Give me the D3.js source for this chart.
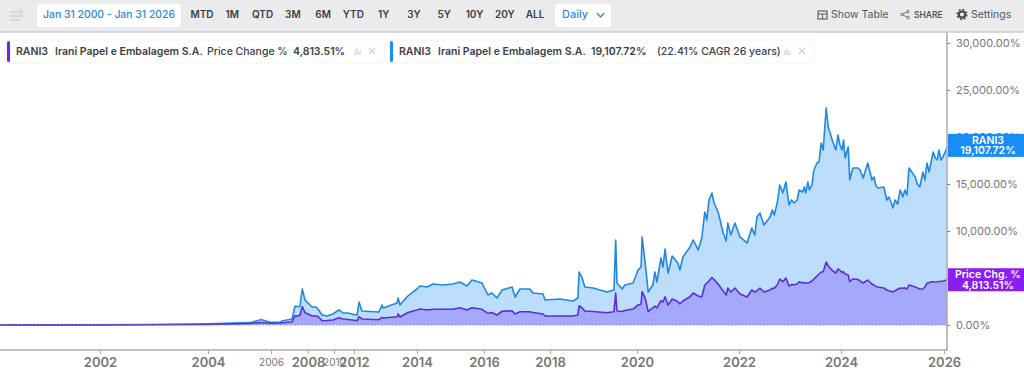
<!DOCTYPE html>
<html>
<head>
<meta charset="utf-8">
<script src="https://cdn.jsdelivr.net/npm/d3@7"></script>
<style>
  html, body { margin: 0; padding: 0; background: #fff; overflow: hidden; }
  text { font-family: Inter, "Noto Sans", sans-serif; }
</style>
</head>
<body>
<div id="chart"></div>
<script>
// values, dates as decimal years
const dates = [2000.15,2001.07,2002,2002.93,2004,2004.79,2005.33,2005.59,2005.68,2005.97,2006.49,2006.65,2007.14,2007.3,2007.46,2007.57,2007.69,2007.84,2008,2008.31,2008.62,2008.77,2009.08,2009.46,2009.92,2010.5,2010.9,2011.4,2012,2012.1,2012.16,2012.25,2012.79,2012.89,2012.92,2013.37,2013.4,2013.46,2013.68,2013.87,2014,2014.09,2014.3,2014.48,2014.78,2015.07,2015.28,2015.49,2015.64,2015.94,2016.12,2016.24,2016.39,2016.55,2016.85,2016.94,2017.09,2017.39,2017.48,2017.79,2017.85,2018.23,2018.53,2018.64,2018.67,2018.74,2018.8,2018.99,2019.31,2019.47,2019.51,2019.54,2019.66,2019.72,2019.91,2020.02,2020.08,2020.1,2020.16,2020.22,2020.31,2020.35,2020.39,2020.47,2020.51,2020.55,2020.61,2020.69,2020.8,2020.84,2020.9,2021.04,2021.1,2021.2,2021.27,2021.33,2021.37,2021.41,2021.47,2021.51,2021.59,2021.69,2021.75,2021.78,2021.84,2021.92,2022.02,2022.16,2022.25,2022.31,2022.35,2022.41,2022.49,
    2022.61,2022.65,2022.69,2022.75,2022.8,2022.86,2022.92,2022.98,2023.03,2023.08,2023.14,2023.18,2023.25,2023.28,2023.31,2023.35,2023.38,2023.43,2023.47,2023.53,2023.57,2023.61,2023.65,2023.71,2023.75,2023.84,2023.9,2023.94,2023.98,2024.02,2024.05,2024.08,2024.14,2024.17,2024.23,2024.33,2024.37,2024.43,2024.52,2024.6,2024.64,2024.68,2024.72,2024.83,2024.86,2024.89,2024.93,2024.97,2025.01,2025.05,2025.1,2025.15,2025.2,2025.24,2025.28,2025.32,2025.44,2025.48,2025.53,2025.59,2025.63,2025.67,2025.71,2025.75,2025.79,2025.83,2025.87,2025.9,2025.94,2025.98,2026.08];
const totalReturn = [0,15,25,50,130,200,250,480,585,290,320,460,640,2020,1950,2020,3830,2660,2340,1915,1915,1700,1065,960,1170,1600,1280,1280,1120,1065,2450,1490,1380,2130,1810,2340,2870,2130,2980,3510,3830,4150,4040,4360,4255,4360,4575,4150,4790,4470,3190,3405,2870,3725,4040,2980,3830,3830,3405,3300,2660,2765,2555,2870,5640,5000,4040,3940,3510,3725,9045,4470,3830,4255,4470,5850,6170,9365,6600,3510,4255,5640,4575,7130,6170,8085,5530,7340,6600,5850,7235,8300,9045,7980,9255,12025,11170,13300,14045,12980,12025,9790,8940,10850,9575,10850,9365,8725,10320,9575,11490,11915,10640,
    11490,12235,11700,12980,14895,14045,15215,12770,13300,12980,13300,14365,14150,14680,14045,15215,14365,14895,16490,17235,17345,19365,18620,23090,21065,19470,18620,20215,19150,18620,19680,17770,18940,15430,16705,16705,16490,15640,17235,15430,15745,14790,14575,14680,14045,13300,13620,13090,12450,13300,12875,14365,13620,14365,13830,16705,15745,15000,14680,16280,15430,17235,16280,17345,18405,17770,17555,18620,17555,17875,19107.72];
const priceChange = [0,10,15,25,60,120,160,230,270,180,210,245,350,990,960,1065,1950,1310,1170,960,960,900,460,480,530,780,640,585,500,460,880,640,565,820,745,880,1170,850,1280,1490,1600,1700,1600,1670,1670,1670,1840,1600,1840,1670,1245,1330,1065,1460,1520,1170,1415,1415,1330,1170,960,960,960,1065,2050,1810,1490,1435,1310,1415,3405,1490,1435,1540,1700,2130,2235,3545,2870,1415,1810,2020,1810,2585,2450,3010,2130,2765,2500,2235,2555,3010,3405,3085,2980,4255,4470,4680,5055,4840,4360,3620,3190,3935,3510,3935,3300,2980,3725,3510,3620,3935,3510,
    3725,3900,3900,4255,4895,4605,5000,4150,4300,4280,4360,4605,4470,4520,4470,4470,4520,4680,4900,5215,5425,5640,5670,6700,6280,5745,5530,5960,5800,5600,5650,5425,5320,4605,4895,4840,4700,4470,4790,4360,4250,4100,4040,3935,3830,3725,3650,3600,3510,3650,3800,3935,3900,3950,3830,4255,4040,3950,3830,3830,4040,4470,4500,4605,4605,4570,4600,4630,4650,4680,4813.51];

const yTicks = [0, 5000, 10000, 15000, 20000, 25000, 30000];
const majorYears = [2002, 2004, 2008, 2012, 2014, 2016, 2018, 2020, 2022, 2024, 2026];
const minorYears = [2006, 2010];
const rangeButtons = ["MTD","1M","QTD","3M","6M","YTD","1Y","3Y","5Y","10Y","20Y","ALL"];

const width = 1024, height = 376;
const plotRight = 947, axisY = 350, topBar = 32;

const svg = d3.select("#chart").append("svg")
    .attr("width", width)
    .attr("height", height)
    .style("display", "block");

// the time axis is not even, so one piece per labelled year
const x = d3.scaleLinear()
    .domain([2000, 2002, 2004, 2006, 2008, 2010, 2012, 2014, 2016, 2018, 2020, 2022, 2024, 2026, 2026.08])
    .range([-8, 100, 208, 271, 308, 334, 354, 417, 484, 550, 637, 739, 841, 944, 948]);

const y = d3.scaleLinear().domain([0, 30000]).range([325, 43]);

const rows = dates.map((d, i) => ({ date: d, total: totalReturn[i], price: priceChange[i] }));

const clip = svg.append("defs").append("clipPath").attr("id", "plot");
clip.append("rect").attr("x", 0).attr("y", topBar).attr("width", plotRight).attr("height", axisY - topBar);

const plot = svg.append("g").attr("clip-path", "url(#plot)");

function drawSeries(key, fill, stroke) {
    const area = d3.area().x(d => x(d.date)).y0(y(0)).y1(d => y(d[key]));
    const line = d3.line().x(d => x(d.date)).y(d => y(d[key]));
    plot.append("path").datum(rows).attr("d", area).attr("fill", fill);
    plot.append("path").datum(rows).attr("d", line)
        .attr("fill", "none")
        .attr("stroke", stroke)
        .attr("stroke-width", 1.6)
        .attr("stroke-linejoin", "round");
}

drawSeries("total", "#bcdefc", "#1f88e4");
drawSeries("price", "#a5a9fb", "#5a2fd8");

plot.append("line")
    .attr("x1", 0).attr("x2", plotRight)
    .attr("y1", y(0)).attr("y2", y(0))
    .attr("stroke", "#8a8da8")
    .attr("stroke-width", 1)
    .attr("stroke-dasharray", "1.5,2");

// axes
const yAxis = d3.axisRight(y)
    .tickValues(yTicks)
    .tickSize(3)
    .tickPadding(6)
    .tickFormat(d => d3.format(",.2f")(d) + "%");

const yAxisG = svg.append("g").attr("transform", `translate(${plotRight},0)`).call(yAxis);
yAxisG.select(".domain").remove();
yAxisG.selectAll("line").attr("stroke", "#777");
yAxisG.selectAll("text").attr("fill", "#777").style("font-size", "11px");

const xAxis = d3.axisBottom(x)
    .tickValues(majorYears.concat(minorYears))
    .tickSize(4)
    .tickFormat(d3.format("d"));

const xAxisG = svg.append("g").attr("transform", `translate(0,${axisY})`).call(xAxis);
xAxisG.select(".domain").remove();
xAxisG.selectAll("line").attr("stroke", "#aaa");
xAxisG.selectAll("text")
    .attr("y", d => minorYears.includes(d) ? 8.5 : 7.5)
    .attr("fill", "#777")
    .style("font-weight", d => minorYears.includes(d) ? 400 : 600)
    .style("font-size", d => minorYears.includes(d) ? "10px" : "13px");

svg.append("line").attr("x1", 0).attr("x2", plotRight + 1).attr("y1", axisY).attr("y2", axisY)
    .attr("stroke", "#aaa").attr("stroke-width", 1.5);
svg.append("line").attr("x1", plotRight).attr("x2", plotRight).attr("y1", topBar).attr("y2", axisY)
    .attr("stroke", "#aaa").attr("stroke-width", 1.5);

// end labels
function endLabel(value, color, first, second) {
    const g = svg.append("g").attr("transform", `translate(${plotRight + 1},${y(value)})`);
    g.append("rect").attr("x", 0).attr("y", -11.5).attr("width", width - plotRight).attr("height", 23).attr("fill", color);
    [[first, -1.5], [second, 8.8]].forEach(([t, dy]) => {
        g.append("text").attr("x", 40).attr("y", dy)
            .attr("text-anchor", "middle")
            .attr("fill", "#fff")
            .style("font-size", "10.5px")
            .style("font-weight", 600)
            .text(t);
    });
}
endLabel(totalReturn[totalReturn.length - 1], "#1a8cf5", "RANI3", "19,107.72%");
endLabel(priceChange[priceChange.length - 1], "#8a1df0", "Price Chg. %", "4,813.51%");

// top bar
svg.append("rect").attr("width", width).attr("height", topBar).attr("fill", "#e9ebed");
svg.append("line").attr("x1", 0).attr("x2", width).attr("y1", topBar).attr("y2", topBar)
    .attr("stroke", "#c9cbce").attr("stroke-width", 1.5);

function label(parent, px, py, txt, size, weight, color, anchor) {
    return parent.append("text").attr("x", px).attr("y", py)
        .attr("text-anchor", anchor || "start")
        .attr("fill", color)
        .style("font-size", size + "px")
        .style("font-weight", weight)
        .text(txt);
}

const bar = svg.append("g");
// swap icon
bar.append("path")
    .attr("d", "M10 12H22M19 9L23 12L19 15M10 16H23M10 20H21")
    .attr("fill", "none").attr("stroke", "#d2d4d7").attr("stroke-width", 1.5);

bar.append("rect").attr("x", 37).attr("y", 4).attr("width", 144).attr("height", 23).attr("rx", 3).attr("fill", "#fff");
label(bar, 109, 18, "Jan 31 2000 - Jan 31 2026", 10.4, 500, "#2a87d8", "middle");

const buttonX = d3.scalePoint().domain(rangeButtons).range([202, 535]);
rangeButtons.forEach(b => label(bar, buttonX(b), 18, b, 10, 600, "#3a3f45", "middle"));

bar.append("rect").attr("x", 555).attr("y", 4).attr("width", 56).attr("height", 23).attr("rx", 3).attr("fill", "#fff");
label(bar, 562, 18, "Daily", 11, 500, "#2a87d8");
bar.append("path").attr("d", "M597 13L600.5 17L604 13").attr("fill", "none").attr("stroke", "#2a87d8").attr("stroke-width", 1.2);

// table icon
bar.append("rect").attr("x", 818).attr("y", 11).attr("width", 9).attr("height", 8).attr("fill", "none").attr("stroke", "#55595e").attr("stroke-width", 1.1);
bar.append("path").attr("d", "M818 14H827M822.5 14V19").attr("stroke", "#55595e").attr("stroke-width", 1);
label(bar, 831, 18, "Show Table", 10.5, 400, "#55595e");

// share icon
bar.append("path").attr("d", "M902 14.5L908 11.5M902 14.5L908 17.5").attr("stroke", "#55595e").attr("stroke-width", 0.8);
[[902, 14.5], [908, 11.5], [908, 17.5]].forEach(c => {
    bar.append("circle").attr("cx", c[0]).attr("cy", c[1]).attr("r", 1.3).attr("fill", "#e9ebed").attr("stroke", "#55595e").attr("stroke-width", 0.8);
});
label(bar, 914, 18, "SHARE", 8.5, 600, "#55595e");

// settings icon
bar.append("circle").attr("cx", 962).attr("cy", 14.5).attr("r", 3.2).attr("fill", "none").attr("stroke", "#44484d").attr("stroke-width", 2.2);
bar.append("circle").attr("cx", 962).attr("cy", 14.5).attr("r", 5).attr("fill", "none").attr("stroke", "#44484d").attr("stroke-width", 1.3).attr("stroke-dasharray", "2,1.9");
label(bar, 971, 18, "Settings", 10.5, 400, "#55595e");

// legend chips
function chip(left, w, color, parts, iconX) {
    const g = svg.append("g");
    g.append("rect").attr("x", left).attr("y", 40).attr("width", w).attr("height", 23).attr("rx", 3).attr("fill", "#fff").attr("stroke", "#f3f4f5");
    g.append("rect").attr("x", left).attr("y", 41).attr("width", 3).attr("height", 21).attr("rx", 1.5).attr("fill", color);
    parts.forEach(p => label(g, p[0], 55, p[1], 10.5, p[2], "#3c4046"));
    g.append("path").attr("d", `M${iconX - 4} 55V51L${iconX} 47V51H${iconX + 3}V55Z`).attr("fill", "#e2e3e5");
    g.append("path").attr("d", `M${iconX + 11} 48L${iconX + 17} 54M${iconX + 17} 48L${iconX + 11} 54`).attr("stroke", "#cfd1d3").attr("stroke-width", 1.1);
}
chip(7, 377, "#7a1fe0", [[16, "RANI3", 600], [55, "Irani Papel e Embalagem S.A.", 600], [207, "Price Change %", 500], [293, "4,813.51%", 600]], 358);
chip(390, 424, "#1a8cf5", [[399, "RANI3", 600], [438, "Irani Papel e Embalagem S.A.", 600], [591, "19,107.72%", 600], [657, "(22.41% CAGR 26 years)", 500]], 788);
</script>
</body>
</html>
